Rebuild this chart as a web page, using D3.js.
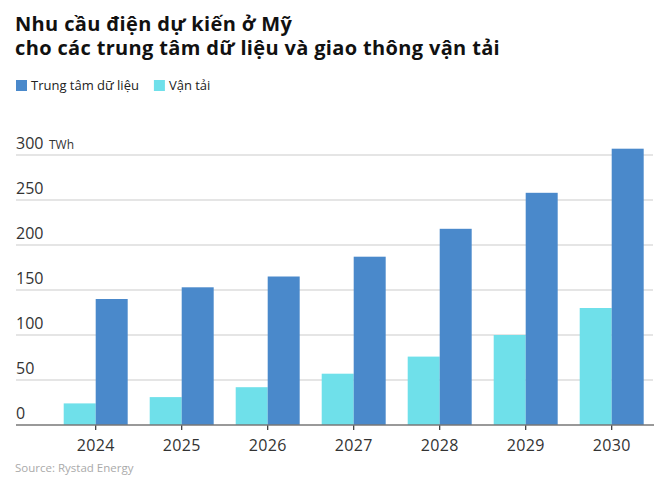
<!DOCTYPE html>
<html>
<head>
<meta charset="utf-8">
<script src="https://cdn.jsdelivr.net/npm/d3@7"></script>
<style>
  body { margin: 0; background: #fff; }
  svg { display: block; }
  text { font-family: "Open Sans", "Noto Sans", sans-serif; }
</style>
</head>
<body>
<svg id="chart" width="669" height="482"></svg>
<script>
const years = ["2024", "2025", "2026", "2027", "2028", "2029", "2030"];
const transport = [24, 31, 42, 57, 76, 100, 130];
const dataCenters = [140, 153, 165, 187, 218, 258, 307];
const seriesNames = ["Vận tải", "Trung tâm dữ liệu"];
const legendNames = ["Trung tâm dữ liệu", "Vận tải"];
const yTicks = [0, 50, 100, 150, 200, 250, 300];
const titleLines = ["Nhu cầu điện dự kiến ở Mỹ", "cho các trung tâm dữ liệu và giao thông vận tải"];
const colors = { "Vận tải": "#6fe0ea", "Trung tâm dữ liệu": "#4a89cb" };

const rows = years.map((y, i) => ({ year: y, "Vận tải": transport[i], "Trung tâm dữ liệu": dataCenters[i] }));

const svg = d3.select("#chart");

// Title
const title = svg.append("text")
  .attr("font-size", 20).attr("font-weight", 700).attr("fill", "#111")
  .attr("letter-spacing", 0.35);
title.selectAll("tspan").data(titleLines).join("tspan")
  .attr("x", 15).attr("y", (d, i) => 31 + i * 24).text(d => d);

// Legend
const legend = svg.append("g");
let lx = 16;
legendNames.forEach(n => {
  legend.append("rect").attr("x", lx).attr("y", 80).attr("width", 11).attr("height", 11).attr("fill", colors[n]);
  const t = legend.append("text").attr("x", lx + 15).attr("y", 90).attr("font-size", 13).attr("fill", "#222").text(n);
  lx += 15 + t.node().getComputedTextLength() + 15;
});

// Scales
const y = d3.scaleLinear().domain([0, 300]).range([425, 155]);
const x0 = d3.scaleBand().domain(years).range([52.7, 654.7]).paddingInner(0.256).paddingOuter(0.128);
const x1 = d3.scaleBand().domain(seriesNames).range([0, x0.bandwidth()]);

// Gridlines
svg.append("g").selectAll("line").data(yTicks.filter(d => d > 0)).join("line")
  .attr("x1", 16).attr("x2", 653)
  .attr("y1", d => y(d)).attr("y2", d => y(d))
  .attr("stroke", "#dcdcdc").attr("stroke-width", 1.5);

// Y labels
svg.append("g").selectAll("text").data(yTicks).join("text")
  .attr("x", 16).attr("y", d => y(d) - 6)
  .attr("font-size", 16).attr("fill", "#333").text(d => d);
svg.append("text").attr("x", 49).attr("y", y(300) - 6).attr("font-size", 12).attr("fill", "#333").text("TWh");

// Bars
const groups = svg.append("g").selectAll("g").data(rows).join("g")
  .attr("transform", d => `translate(${x0(d.year)},0)`);
groups.selectAll("rect").data(d => seriesNames.map(k => ({ key: k, value: d[k] }))).join("rect")
  .attr("x", d => x1(d.key)).attr("width", x1.bandwidth())
  .attr("y", d => y(d.value)).attr("height", d => y(0) - y(d.value))
  .attr("fill", d => colors[d.key]);

// X axis
const xAxis = d3.axisBottom(x0).tickSize(5).tickPadding(10);
const ax = svg.append("g").attr("transform", `translate(0,${y(0)})`).call(xAxis);
ax.select(".domain").remove();
ax.selectAll(".tick line").attr("stroke", "#333").attr("stroke-width", 1.2);
ax.selectAll(".tick text").attr("font-size", 16).attr("fill", "#333")
  .attr("letter-spacing", 0.3)
  .attr("font-family", "'Open Sans', 'Noto Sans', sans-serif");
svg.append("line").attr("x1", 16).attr("x2", 654).attr("y1", y(0)).attr("y2", y(0))
  .attr("stroke", "#777").attr("stroke-width", 1.5);

// Source
svg.append("text").attr("x", 15).attr("y", 472).attr("font-size", 11.5).attr("fill", "#aaa").text("Source: Rystad Energy");
</script>
</body>
</html>
